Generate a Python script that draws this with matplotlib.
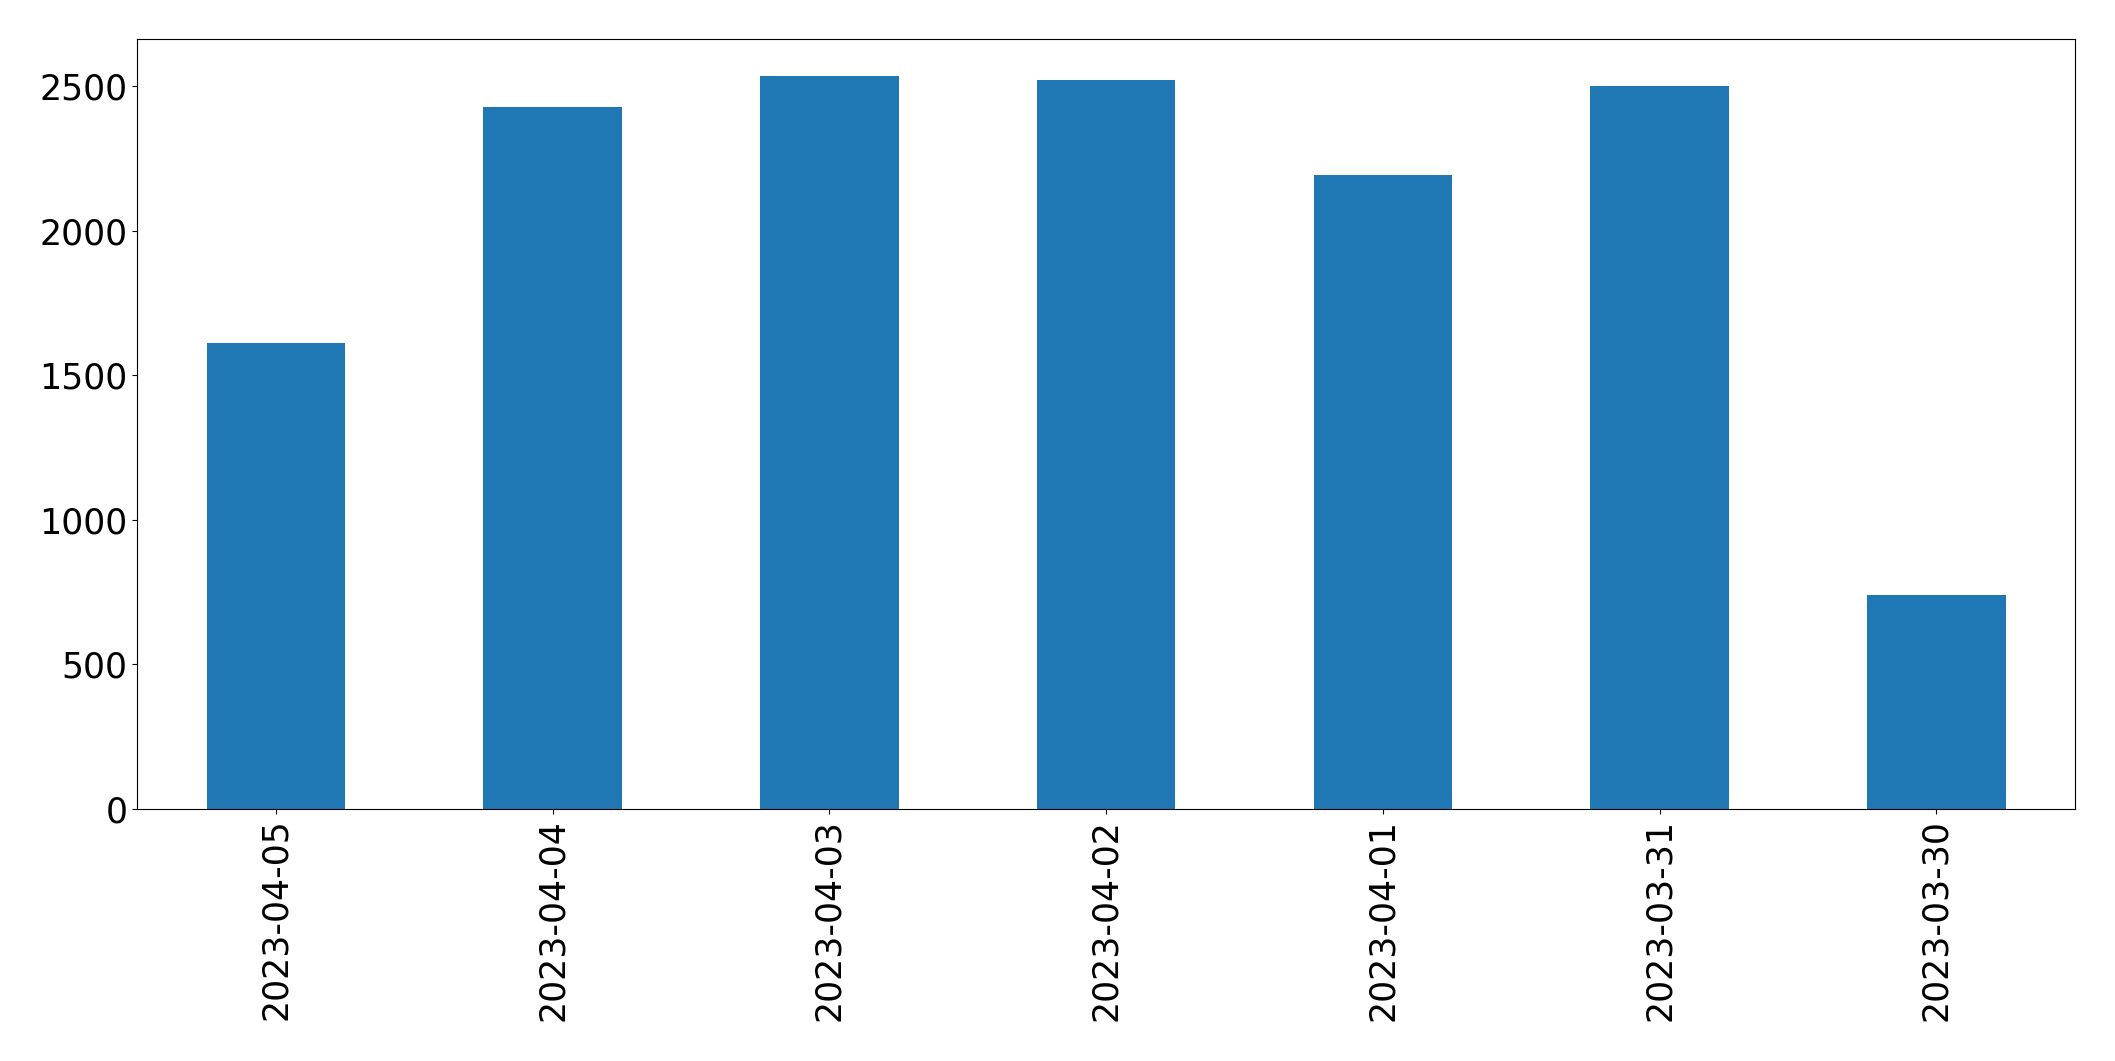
import matplotlib
matplotlib.use("Agg")
import matplotlib.pyplot as plt

dates = ["2023-04-05", "2023-04-04", "2023-04-03", "2023-04-02",
         "2023-04-01", "2023-03-31", "2023-03-30"]
counts = [1612, 2428, 2535, 2521, 2193, 2500, 740]

fig = plt.figure(figsize=(21.15, 10.61), dpi=100)
ax = fig.add_axes([0.065, 0.2375, 0.916, 0.7255])
x = list(range(len(dates)))
ax.bar(x, counts, width=0.5, color="#1f77b4")
ax.set_xlim(-0.5, len(dates) - 0.5)
ax.set_ylim(0, max(counts) * 1.05)
ax.set_xticks(x)
ax.set_xticklabels(dates, rotation=90)
ax.tick_params(axis="both", labelsize=25)
fig.savefig("out.png", dpi=100)
